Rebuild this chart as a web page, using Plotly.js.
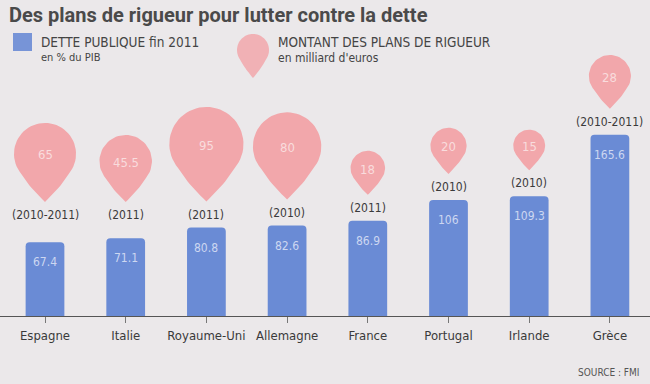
<!DOCTYPE html>
<html>
<head>
<meta charset="utf-8">
<script src="https://cdn.plot.ly/plotly-3.0.1.min.js"></script>
<style>html,body{margin:0;padding:0;background:#ebe8ea;}#chart{width:650px;height:384px;}</style>
</head>
<body>
<div id="chart"></div>
<script>
// ---- data ----
const categories = ['Espagne', 'Italie', 'Royaume-Uni', 'Allemagne', 'France', 'Portugal', 'Irlande', 'Grèce'];
const dette = [67.4, 71.1, 80.8, 82.6, 86.9, 106, 109.3, 165.6];
const detteLabels = ['67.4', '71.1', '80.8', '82.6', '86.9', '106', '109.3', '165.6'];
const plans = [65, 45.5, 95, 80, 18, 20, 15, 28];
const planLabels = ['65', '45.5', '95', '80', '18', '20', '15', '28'];
const periodes = ['(2010-2011)', '(2011)', '(2011)', '(2010)', '(2011)', '(2010)', '(2010)', '(2010-2011)'];

// ---- geometry (pixels) ----
const W = 650, H = 384, BASE = 316, PXY = 1.095, X0 = 45, PXX = 80.7;
const FONT = '"Liberation Sans Narrow", "DejaVu Sans Condensed", "Roboto Condensed", Roboto, sans-serif';
const BLUE = '#6a8bd5', PINK = '#f2a7ab', INK = '#3a3a3a';
const idx = categories.map((c, i) => i);
const px2x = p => p / W;                 // paper x
const py2y = p => (BASE - p) / BASE;     // paper y

function dropWidth(m) { return 4 + 7.2 * Math.sqrt(m); }
// outline of a drop: tip at (0,0), returned as [dx,dy] pixel offsets (y up)
function dropOutline(w, k) {
  const r = w / 2, D = (k || 1.55) * r, a = Math.acos(r / D);
  const pts = [];
  const start = -Math.PI / 2 + a, end = 1.5 * Math.PI - a, n = 48;
  for (let j = 0; j <= n; j++) {
    const t = start + (end - start) * j / n;
    pts.push([r * Math.cos(t), D + r * Math.sin(t)]);
  }
  // slightly convex sides from tangent point down to the tip, and back up
  const side = (p0, sgn) => {
    const out = [];
    for (let j = 1; j <= 12; j++) {
      const s = j / 12;
      const bx = p0[0] * (1 - s), by = p0[1] * (1 - s);
      const bulge = 0.07 * r * Math.sin(Math.PI * s);
      out.push([bx + sgn * bulge * 0.9, by + bulge * 0.2]);
    }
    return out;
  };
  const left = pts[pts.length - 1];
  side(left, -1).forEach(p => pts.push(p));
  const right = pts[0];
  side(right, 1).reverse().forEach(p => pts.push(p));
  pts.push(pts[0]);
  return {pts, D};
}

const dx = [], dy = [], annotations = [];
idx.forEach(i => {
  const barTopPx = BASE - PXY * dette[i];
  const tipPx = Math.min(barTopPx - 26, 202);
  const tipY = (BASE - tipPx) / PXY;
  const o = dropOutline(dropWidth(plans[i]));
  o.pts.forEach(p => { dx.push(i + p[0] / PXX); dy.push(tipY + p[1] / PXY); });
  dx.push(null); dy.push(null);
  annotations.push({x: i, y: tipY + o.D / PXY, xref: 'x', yref: 'y', text: planLabels[i], showarrow: false,
    font: {family: FONT, size: 13, color: '#f9dcdd'}, yshift: -1});
  annotations.push({x: i, y: tipY, xref: 'x', yref: 'y', text: periodes[i], showarrow: false,
    font: {family: FONT, size: 12, color: INK}, yshift: -13});
  annotations.push({x: i, y: dette[i], xref: 'x', yref: 'y', text: detteLabels[i], showarrow: false,
    font: {family: FONT, size: 12, color: '#cdd7f1'}, yshift: -20});
});

// titles / legend / source
annotations.push({xref: 'paper', yref: 'paper', x: px2x(7), y: py2y(15), xanchor: 'left', yanchor: 'middle',
  text: '<b>Des plans de rigueur pour lutter contre la dette</b>', showarrow: false,
  font: {family: 'Roboto, "Open Sans", sans-serif', size: 20, color: '#4a4a4a', weight: 900}});
annotations.push({xref: 'paper', yref: 'paper', x: px2x(39), y: py2y(42), xanchor: 'left', yanchor: 'middle',
  text: 'DETTE PUBLIQUE fin 2011', showarrow: false, font: {family: FONT, size: 13.5, color: '#444'}});
annotations.push({xref: 'paper', yref: 'paper', x: px2x(39), y: py2y(58), xanchor: 'left', yanchor: 'middle',
  text: 'en % du PIB', showarrow: false, font: {family: FONT, size: 11, color: '#444'}});
annotations.push({xref: 'paper', yref: 'paper', x: px2x(276), y: py2y(42), xanchor: 'left', yanchor: 'middle',
  text: 'MONTANT DES PLANS DE RIGUEUR', showarrow: false, font: {family: FONT, size: 13.5, color: '#444'}});
annotations.push({xref: 'paper', yref: 'paper', x: px2x(276), y: py2y(58), xanchor: 'left', yanchor: 'middle',
  text: "en milliard d'euros", showarrow: false, font: {family: FONT, size: 12, color: '#444'}});
annotations.push({xref: 'paper', yref: 'paper', x: px2x(641), y: py2y(372), xanchor: 'right', yanchor: 'middle',
  text: 'SOURCE : FMI', showarrow: false, font: {family: FONT, size: 10, color: '#555'}});

// legend glyphs as shapes
const lg = dropOutline(32, 1.75);
let path = '';
lg.pts.forEach((p, k) => { path += (k ? 'L' : 'M') + px2x(253 + p[0]).toFixed(4) + ',' + py2y(78 - p[1]).toFixed(4); });
path += 'Z';
const shapes = [
  {type: 'rect', xref: 'paper', yref: 'paper', x0: px2x(13), x1: px2x(32), y0: py2y(51), y1: py2y(33),
   fillcolor: BLUE, line: {width: 0}, opacity: 0.9},
  {type: 'path', xref: 'paper', yref: 'paper', path: path, fillcolor: PINK, line: {width: 0}, opacity: 0.85}
];

const traces = [
  {type: 'bar', x: idx, y: dette, width: 0.48, marker: {color: BLUE, line: {width: 0}}, hoverinfo: 'skip'},
  {type: 'scatter', mode: 'lines', x: dx, y: dy, fill: 'toself', fillcolor: PINK, line: {width: 0, color: PINK},
   hoverinfo: 'skip', connectgaps: false}
];

const layout = {
  width: W, height: H, showlegend: false,
  paper_bgcolor: '#ebe8ea', plot_bgcolor: 'rgba(0,0,0,0)',
  margin: {l: 0, r: 0, t: 0, b: H - BASE, pad: 0},
  barcornerradius: 4,
  xaxis: {range: [-X0 / PXX, (W - X0) / PXX], tickvals: idx, ticktext: categories, showgrid: false, zeroline: false,
    showline: true, linecolor: '#555', linewidth: 1.3, ticks: 'outside', ticklen: 6, tickcolor: '#777', tickwidth: 1,
    ticklabelstandoff: 1, tickfont: {family: FONT, size: 13, color: INK}, fixedrange: true},
  yaxis: {range: [0, BASE / PXY], visible: false, fixedrange: true},
  annotations: annotations, shapes: shapes
};

Plotly.newPlot('chart', traces, layout, {displayModeBar: false, staticPlot: true});
</script>
</body>
</html>
